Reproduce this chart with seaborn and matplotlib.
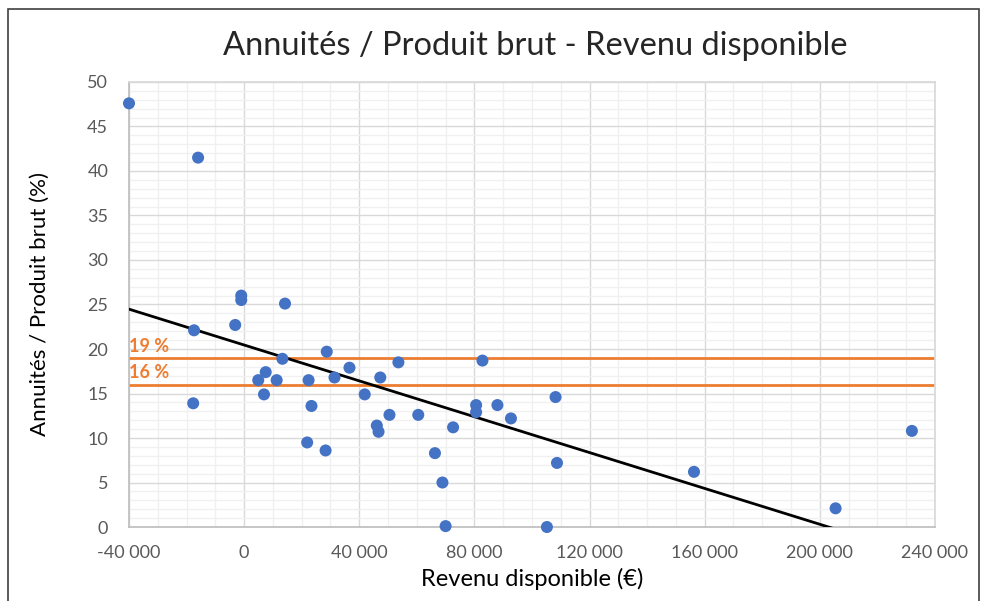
import numpy as np
import pandas as pd
import seaborn as sns
import matplotlib.pyplot as plt
from matplotlib.ticker import MultipleLocator, FuncFormatter
from matplotlib.patches import Rectangle

# revenu disponible (EUR) and annuites / produit brut (%)
revenu = [-40000, -16000, -17400, -17700, -3100, -1000, -1000, 14200, 4900, 7500,
          6900, 11300, 13300, 22400, 23400, 21900, 28300, 28700, 31400, 36600,
          41900, 46100, 46700, 47300, 53600, 50500, 60500, 66300, 68900, 70000,
          72600, 80600, 80600, 82800, 88000, 92700, 105200, 108200, 108700, 156300,
          205500, 232000]
ratio = [47.6, 41.5, 22.1, 13.9, 22.7, 26.0, 25.5, 25.1, 16.5, 17.4,
         14.9, 16.5, 18.9, 16.5, 13.6, 9.5, 8.6, 19.7, 16.8, 17.9,
         14.9, 11.4, 10.7, 16.8, 18.5, 12.6, 12.6, 8.3, 5.0, 0.1,
         11.2, 13.7, 12.9, 18.7, 13.7, 12.2, 0.0, 14.6, 7.2, 6.2,
         2.1, 10.8]
seuils = [19, 16]
seuil_labels = ["19 %", "16 %"]

df = pd.DataFrame({"revenu": revenu, "ratio": ratio})

sns.set_theme(style="white")
plt.rcParams['font.family'] = ['Lato', 'DejaVu Sans']

fig = plt.figure(figsize=(9.81, 6.01), dpi=100)
ax = fig.add_axes([0.1315, 0.1231, 0.8215, 0.7405])

ax.set_xlim(-40000, 240000)
ax.set_ylim(0, 50)

ax.xaxis.set_major_locator(MultipleLocator(40000))
ax.xaxis.set_minor_locator(MultipleLocator(10000))
ax.yaxis.set_major_locator(MultipleLocator(5))
ax.yaxis.set_minor_locator(MultipleLocator(1))
ax.grid(which='minor', color='#f0f0f0', linewidth=1)
ax.grid(which='major', color='#d9d9d9', linewidth=1)
ax.set_axisbelow(True)

for s in ax.spines.values():
    s.set_color('#d9d9d9')
ax.spines['left'].set_color('#bfbfbf')
ax.spines['bottom'].set_color('#bfbfbf')

for y, lab in zip(seuils, seuil_labels):
    ax.axhline(y, color='#ED7D31', linewidth=2, zorder=2)
    ax.text(-40000, y + 0.35, lab, color='#ED7D31', fontsize=13,
            fontweight='bold', va='bottom', ha='left')

sns.regplot(data=df, x="revenu", y="ratio", ax=ax, ci=None, truncate=False,
            scatter=False, line_kws={"color": "black", "linewidth": 2, "zorder": 3})
sns.scatterplot(data=df, x="revenu", y="ratio", ax=ax, color='#4472C4', s=75,
                edgecolor='none', zorder=4, clip_on=False)
ax.set_xlim(-40000, 240000)
ax.set_ylim(0, 50)

fmt = lambda v, p: f"{int(v):,}".replace(",", " ")
ax.xaxis.set_major_formatter(FuncFormatter(fmt))
ax.tick_params(axis='both', which='both', length=0, labelsize=13,
               labelcolor='#595959')
ax.tick_params(axis='y', pad=15)
ax.tick_params(axis='x', pad=13)

ax.set_xlabel("Revenu disponible (€)", fontsize=17, color='black', labelpad=5)
ax.set_ylabel("Annuités / Produit brut (%)", fontsize=16, color='black')
ax.yaxis.set_label_coords(-0.098, 0.5)
fig.suptitle("Annuités / Produit brut - Revenu disponible", fontsize=23.5,
             x=0.546, y=0.948)

fig.patches.append(Rectangle((0.008, -0.01), 0.99, 0.995, transform=fig.transFigure,
                             fill=False, edgecolor='#404040', linewidth=1.2))

fig.savefig("out.png", dpi=100)
